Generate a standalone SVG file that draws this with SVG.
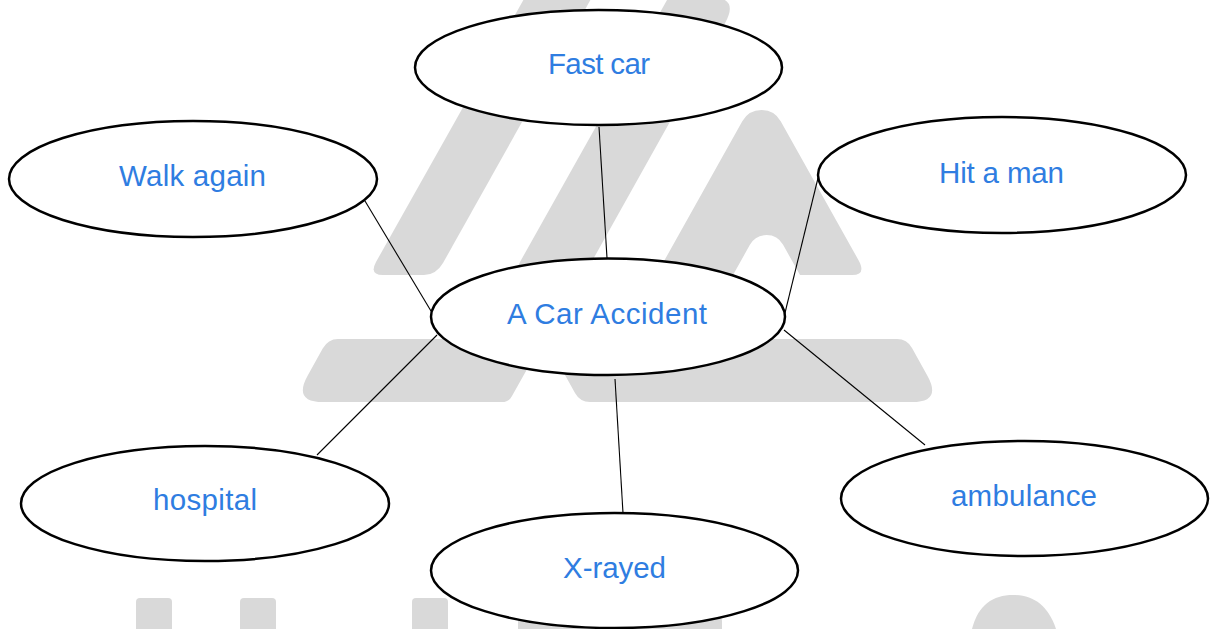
<svg xmlns="http://www.w3.org/2000/svg" width="1212" height="629" viewBox="0 0 1212 629">
<style>
.wm{fill:#d9d9d9;stroke:none}
.node ellipse{fill:#ffffff;stroke:#000000;stroke-width:2.5}
.node text{font-family:"Liberation Sans",Arial,sans-serif;font-size:29.5px;fill:#2f7de1;text-anchor:middle}
.conn line{stroke:#000000;stroke-width:1.1}
</style>
<rect width="1212" height="629" fill="#ffffff"/>
<g id="watermark">
<path class="wm" d="M529,-10 L596,-10 L443,263 Q436,275 424,275 L383,275 Q369,275 376,262 Z"/>
<path class="wm" d="M668.7,-3 L709.7,-3 Q739.7,-3 725,23.2 L591,263 Q584,275 572,275 L527,275 Q513,275 520,262 Z"/>
<path class="wm" d="M742.3,121.3 A22,22 0 0 1 780.7,121.3 L858.4,260 Q866.8,275 852,275 L800,275 L783.1,244.8 A19,19 0 0 0 749.9,244.8 L733,275 L670,275 Q656.2,275 663.5,262 Z"/>
<path class="wm" d="M338,339 L544,339 L512,396 Q509,402 502,402 L323,402 Q293,402 307.6,375.8 L322.7,348.6 Q328,339 338,339 Z"/>
<path class="wm" d="M545,339 L897,339 Q907,339 912,348 L927.4,375.8 Q942,402 912,402 L590,402 Q580,402 575,393 Z"/>
<rect class="wm" x="136" y="598" width="36" height="45" rx="4"/>
<rect class="wm" x="240" y="598" width="36" height="45" rx="4"/>
<rect class="wm" x="412" y="598" width="36" height="45" rx="4"/>
<rect class="wm" x="518" y="617" width="204" height="25" rx="4"/>
<path class="wm" d="M970,640 L972,629 C978,605 993,595 1013,595 C1033,595 1048,605 1056,629 L1058,640 Z"/>
</g>
<g id="connectors" class="conn">
<line x1="365" y1="201" x2="431" y2="311"/>
<line x1="599" y1="127" x2="607" y2="258"/>
<line x1="818" y1="178" x2="784" y2="317"/>
<line x1="437" y1="335" x2="317" y2="455"/>
<line x1="615" y1="379" x2="623" y2="513"/>
<line x1="784" y1="330" x2="925" y2="445"/>
</g>
<g id="node-fast-car" class="node">
<ellipse cx="598.5" cy="67.5" rx="183.5" ry="57.5"/>
<text x="599" y="74" textLength="102">Fast car</text>
</g>
<g id="node-walk-again" class="node">
<ellipse cx="193" cy="179" rx="184" ry="58"/>
<text x="192.5" y="186" textLength="147">Walk again</text>
</g>
<g id="node-hit-a-man" class="node">
<ellipse cx="1002" cy="175" rx="184" ry="58"/>
<text x="1001.5" y="182.5" textLength="125">Hit a man</text>
</g>
<g id="node-center" class="node">
<ellipse cx="608" cy="316.7" rx="177" ry="58.3"/>
<text x="607" y="323.5" textLength="200">A Car Accident</text>
</g>
<g id="node-hospital" class="node">
<ellipse cx="205" cy="503.5" rx="184" ry="57.5"/>
<text x="205" y="509.5" textLength="104">hospital</text>
</g>
<g id="node-x-rayed" class="node">
<ellipse cx="614.5" cy="570.5" rx="183.5" ry="57.5"/>
<text x="614.5" y="577.5" textLength="103">X-rayed</text>
</g>
<g id="node-ambulance" class="node">
<ellipse cx="1024.5" cy="498.5" rx="183.5" ry="57.5"/>
<text x="1024" y="506" textLength="146">ambulance</text>
</g>
</svg>
